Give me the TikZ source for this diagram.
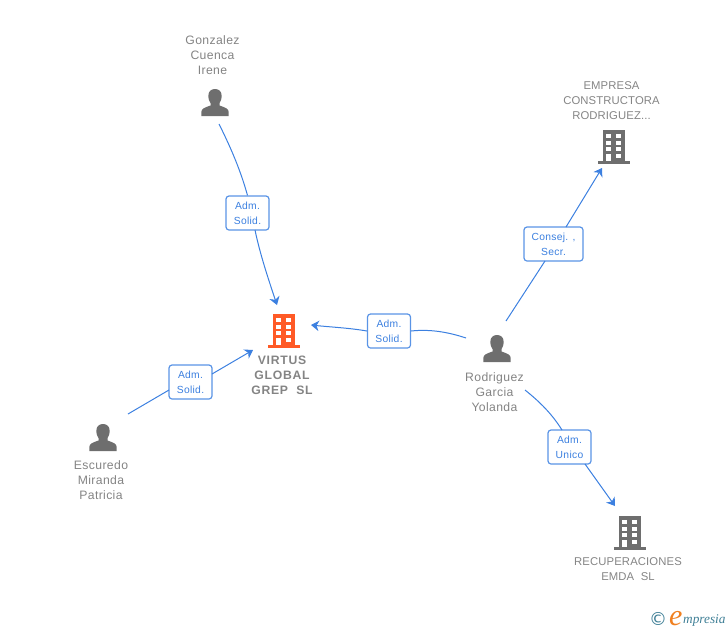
\documentclass[tikz,border=0pt]{standalone}
\usepackage{fontspec}
\usetikzlibrary{arrows.meta}
\setmainfont{Liberation Sans}
\newfontfamily\logofont{Liberation Serif}
\newfontfamily\logosans{DejaVu Sans}
\newfontfamily\capfont[LetterSpace=3]{Liberation Sans}
\newfontfamily\capupfont[LetterSpace=1]{Liberation Sans}
\newfontfamily\capboldfont[LetterSpace=6,BoldFont={Liberation Sans Bold}]{Liberation Sans}
\newfontfamily\rolefont[LetterSpace=3]{Liberation Sans}
\definecolor{linkblue}{HTML}{3C80E0}
\definecolor{boxblue}{HTML}{5A94E6}
\definecolor{txtgray}{HTML}{848484}
\definecolor{icongray}{HTML}{6E6E6E}
\definecolor{iconorange}{HTML}{FF5A26}
\definecolor{logoteal}{HTML}{3F7F96}
\definecolor{logoorange}{HTML}{F08020}
\tikzset{
  x=1pt,y=-1pt,
  edge/.style={draw=linkblue,line width=1pt},
  arrowedge/.style={edge,-{Stealth[length=8pt,width=10.5pt,inset=2.5pt]}},
  rolebox/.style={draw=boxblue,line width=1.2pt,rounded corners=3pt,fill=white,minimum height=34pt,inner sep=0pt,
    align=center,text=linkblue,font=\fontsize{10.3}{15}\selectfont\rolefont},
  caption/.style={align=center,text=txtgray,font=\fontsize{12.2}{15}\selectfont\capfont,inner sep=0pt},
  upcaption/.style={caption,font=\fontsize{11.3}{15}\selectfont\capupfont},
  boldcaption/.style={caption,font=\fontsize{12.2}{15}\selectfont\capboldfont\bfseries},
  pics/building/.style={code={
    \fill[#1] (-11,-17) rectangle (11,14);
    \fill[#1] (-16,14) rectangle (16,16.5);
    \foreach \yy in {-13.5,-6.5,0,6.5}{
      \fill[white] (-7.8,\yy) rectangle (-2.8,\yy+4.4);
      \fill[white] (2.2,\yy) rectangle (7.2,\yy+4.4);}
    \fill[white] (-7.8,6.5) rectangle (-2.8,14);
  }},
  pics/person/.style={code={
    \fill[icongray] (-13.7,13) -- (-13.7,9) .. controls (-13.7,5.5) and (-10,4.5) .. (-4.5,2.5)
      -- (-4.5,0) .. controls (-6.5,-3) and (-6.7,-6) .. (-6.7,-7)
      .. controls (-6.7,-12) and (-3.5,-14) .. (0,-14)
      .. controls (3.5,-14) and (6.7,-12) .. (6.7,-7)
      .. controls (6.7,-6) and (6.5,-3) .. (4.5,0)
      -- (4.5,2.5) .. controls (10,4.5) and (13.7,5.5) .. (13.7,9) -- (13.7,13) -- cycle;
  }},
}
\begin{document}
\begin{tikzpicture}
\useasboundingbox (0,0) rectangle (728,630);
% icons
\pic at (284,331) {building=iconorange};
\pic at (614,147) {building=icongray};
\pic at (630,533) {building=icongray};
\pic at (215,103) {person};
\pic at (103,438) {person};
\pic at (497,349) {person};
% captions
\node[caption] (gonzalez) at (212.5,55) {Gonzalez\\Cuenca\\Irene};
\node[boldcaption] (virtus) at (282,375) {VIRTUS\\GLOBAL\\GREP\ \ SL};
\node[caption] (escuredo) at (101,480) {Escuredo\\Miranda\\Patricia};
\node[caption] (rodriguez) at (494.5,392) {Rodriguez\\Garcia\\Yolanda};
\node[upcaption] (empresa) at (611.5,101) {EMPRESA\\CONSTRUCTORA\\RODRIGUEZ...};
\node[upcaption] (recup) at (628,569) {RECUPERACIONES\\EMDA\ \ SL};
% role boxes
\node[rolebox,minimum width=43pt] (r1) at (247.5,213) {Adm.\\Solid.};
\node[rolebox,minimum width=43pt] (r2) at (389,331) {Adm.\\Solid.};
\node[rolebox,minimum width=43pt] (r3) at (190.5,382) {Adm.\\Solid.};
\node[rolebox,minimum width=59pt] (r4) at (553.5,244) {Consej. ,\\Secr.};
\node[rolebox,minimum width=43pt] (r5) at (569.5,447) {Adm.\\Unico};
% connector ends
\coordinate (gonzalezOut) at (219,124);
\coordinate (virtusTop) at (277,305);
\coordinate (virtusRight) at (311,325);
\coordinate (virtusLeft) at (253,350);
\coordinate (escuredoOut) at (128,414);
\coordinate (rodriguezLeft) at (466,338);
\coordinate (rodriguezTop) at (506,321);
\coordinate (rodriguezBottom) at (525,390);
\coordinate (empresaIn) at (602,168);
\coordinate (recupIn) at (615,506);
% connectors
\draw[edge] (gonzalezOut) .. controls (232,150) and (241,172) .. (r1.north);
\draw[arrowedge] (255,230) .. controls (260,254) and (268,278) .. (virtusTop);
\draw[edge] (rodriguezLeft) .. controls (448,332) and (430,329) .. (r2.east);
\draw[arrowedge] (r2.west) .. controls (350,328) and (330,327) .. (virtusRight);
\draw[edge] (escuredoOut) -- (169,390);
\draw[arrowedge] (212,374) -- (virtusLeft);
\draw[edge] (rodriguezTop) -- (545,261);
\draw[arrowedge] (566,227) -- (empresaIn);
\draw[edge] (rodriguezBottom) .. controls (540,402) and (552,414) .. (562,430);
\draw[arrowedge] (585,464) -- (recupIn);
% logo
\node[anchor=center,inner sep=0pt,text=logoteal,font=\fontsize{18}{18}\selectfont\logosans] (copy) at (658,619) {©};
\node[anchor=base west,inner sep=0pt,text=logoorange,font=\fontsize{30}{30}\selectfont\logofont\itshape] (logoe) at (669,625) {e};
\node[anchor=base west,inner sep=0pt,text=logoteal,font=\fontsize{13.3}{13.5}\selectfont\logofont\itshape] (logotext) at (683,623) {mpresia};
\end{tikzpicture}
\end{document}
